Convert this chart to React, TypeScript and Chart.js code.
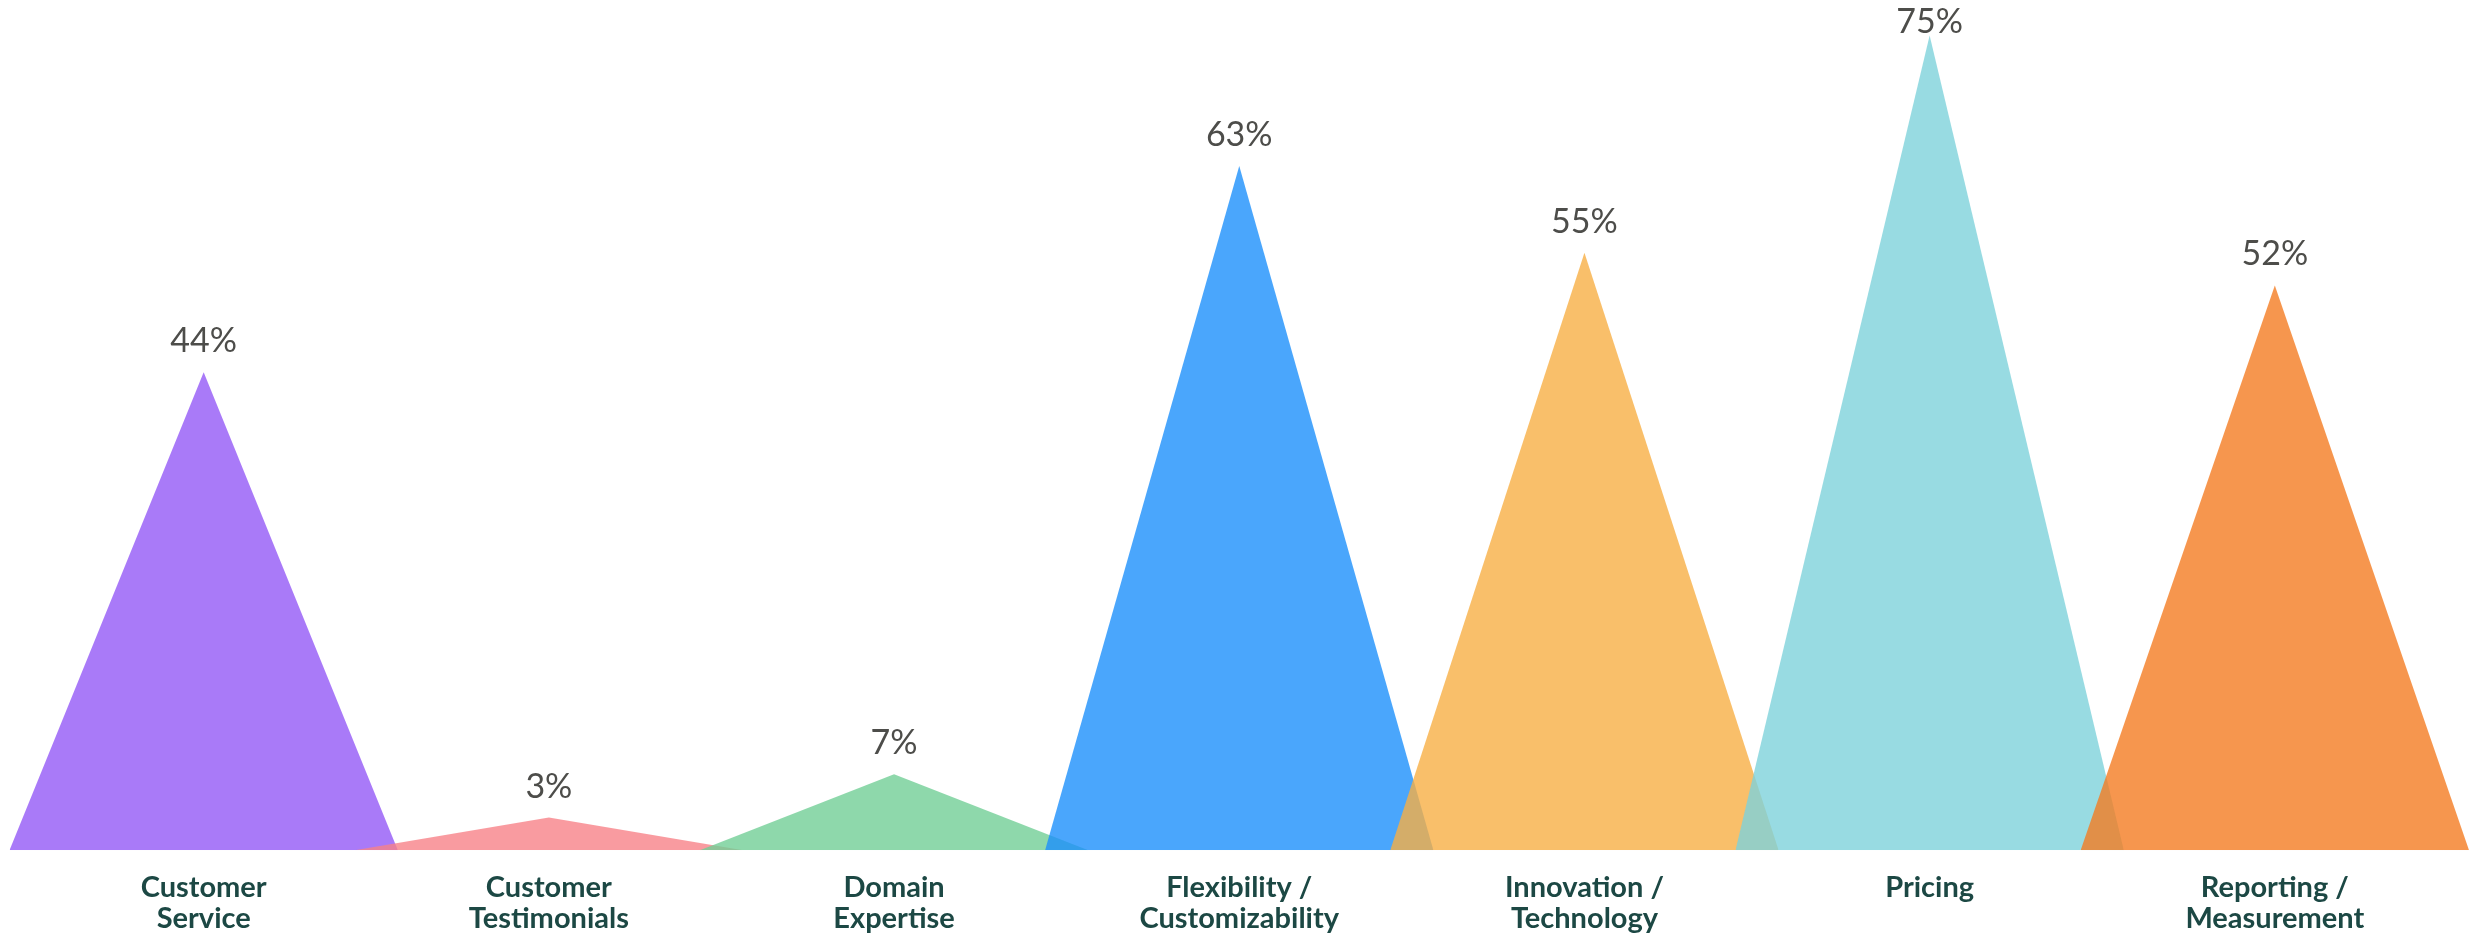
import React, { useEffect, useRef } from "react";
import { Chart, registerables } from "chart.js";

Chart.register(...registerables);

const categories: string[][] = [
  ["Customer", "Service"],
  ["Customer", "Testimonials"],
  ["Domain", "Expertise"],
  ["Flexibility /", "Customizability"],
  ["Innovation /", "Technology"],
  ["Pricing"],
  ["Reporting /", "Measurement"],
];
const values: number[] = [44, 3, 7, 63, 55, 75, 52];
const colors: string[] = [
  "rgba(148,89,246,0.8)",
  "rgba(248,130,136,0.8)",
  "rgba(114,206,150,0.8)",
  "rgba(29,144,251,0.8)",
  "rgba(248,175,69,0.8)",
  "rgba(126,210,219,0.8)",
  "rgba(244,124,34,0.8)",
];
const HALF = 0.5625;

const valueLabels = {
  id: "valueLabels",
  afterDatasetsDraw(chart: any) {
    const ctx = chart.ctx;
    ctx.save();
    ctx.font = "400 34px Lato";
    ctx.fillStyle = "#4d4d4a";
    ctx.textAlign = "center";
    ctx.textBaseline = "middle";
    chart.data.datasets.forEach((ds: any, i: number) => {
      const meta = chart.getDatasetMeta(i);
      const p = meta.data[1];
      if (p) ctx.fillText(values[i] + "%", p.x, Math.max(p.y - 31, 22));
    });
    ctx.restore();
  },
};

export default function App() {
  const ref = useRef<HTMLCanvasElement>(null);
  useEffect(() => {
    if (!ref.current) return;
    const n = values.length;
    const chart = new Chart(ref.current, {
      type: "line",
      data: {
        datasets: values.map((v, i) => ({
          data: [
            { x: i - HALF, y: 0 },
            { x: i, y: v },
            { x: i + HALF, y: 0 },
          ],
          backgroundColor: colors[i],
          borderWidth: 0,
          pointRadius: 0,
          fill: "origin",
          tension: 0,
          order: n - i,
        })),
      },
      options: {
        animation: false,
        responsive: false,
        maintainAspectRatio: false,
        layout: { padding: { left: 9.5, right: 5, top: 3, bottom: -10 } },
        plugins: { legend: { display: false }, tooltip: { enabled: false } },
        scales: {
          x: {
            type: "linear",
            min: -HALF,
            max: n - 1 + HALF,
            grid: { display: false },
            border: { display: false },
            afterBuildTicks: (axis: any) => {
              axis.ticks = categories.map((_, i) => ({ value: i }));
            },
            ticks: {
              autoSkip: false,
              maxRotation: 0,
              padding: 13,
              color: "#1c4844",
              font: { family: "Lato", size: 29, weight: "bold", lineHeight: 1.1 },
              callback: (v: any) => categories[v as number] ?? "",
            },
          },
          y: {
            display: false,
            min: 0,
            max: 78,
          },
        },
      },
      plugins: [valueLabels],
    });
    return () => chart.destroy();
  }, []);
  return (
    <div style={{ position: "absolute", left: 0, top: 0, width: 2474, height: 938, background: "#fff", overflow: "hidden" }}>
      <canvas ref={ref} width={2474} height={938} style={{ width: 2474, height: 938, display: "block" }} />
    </div>
  );
}
